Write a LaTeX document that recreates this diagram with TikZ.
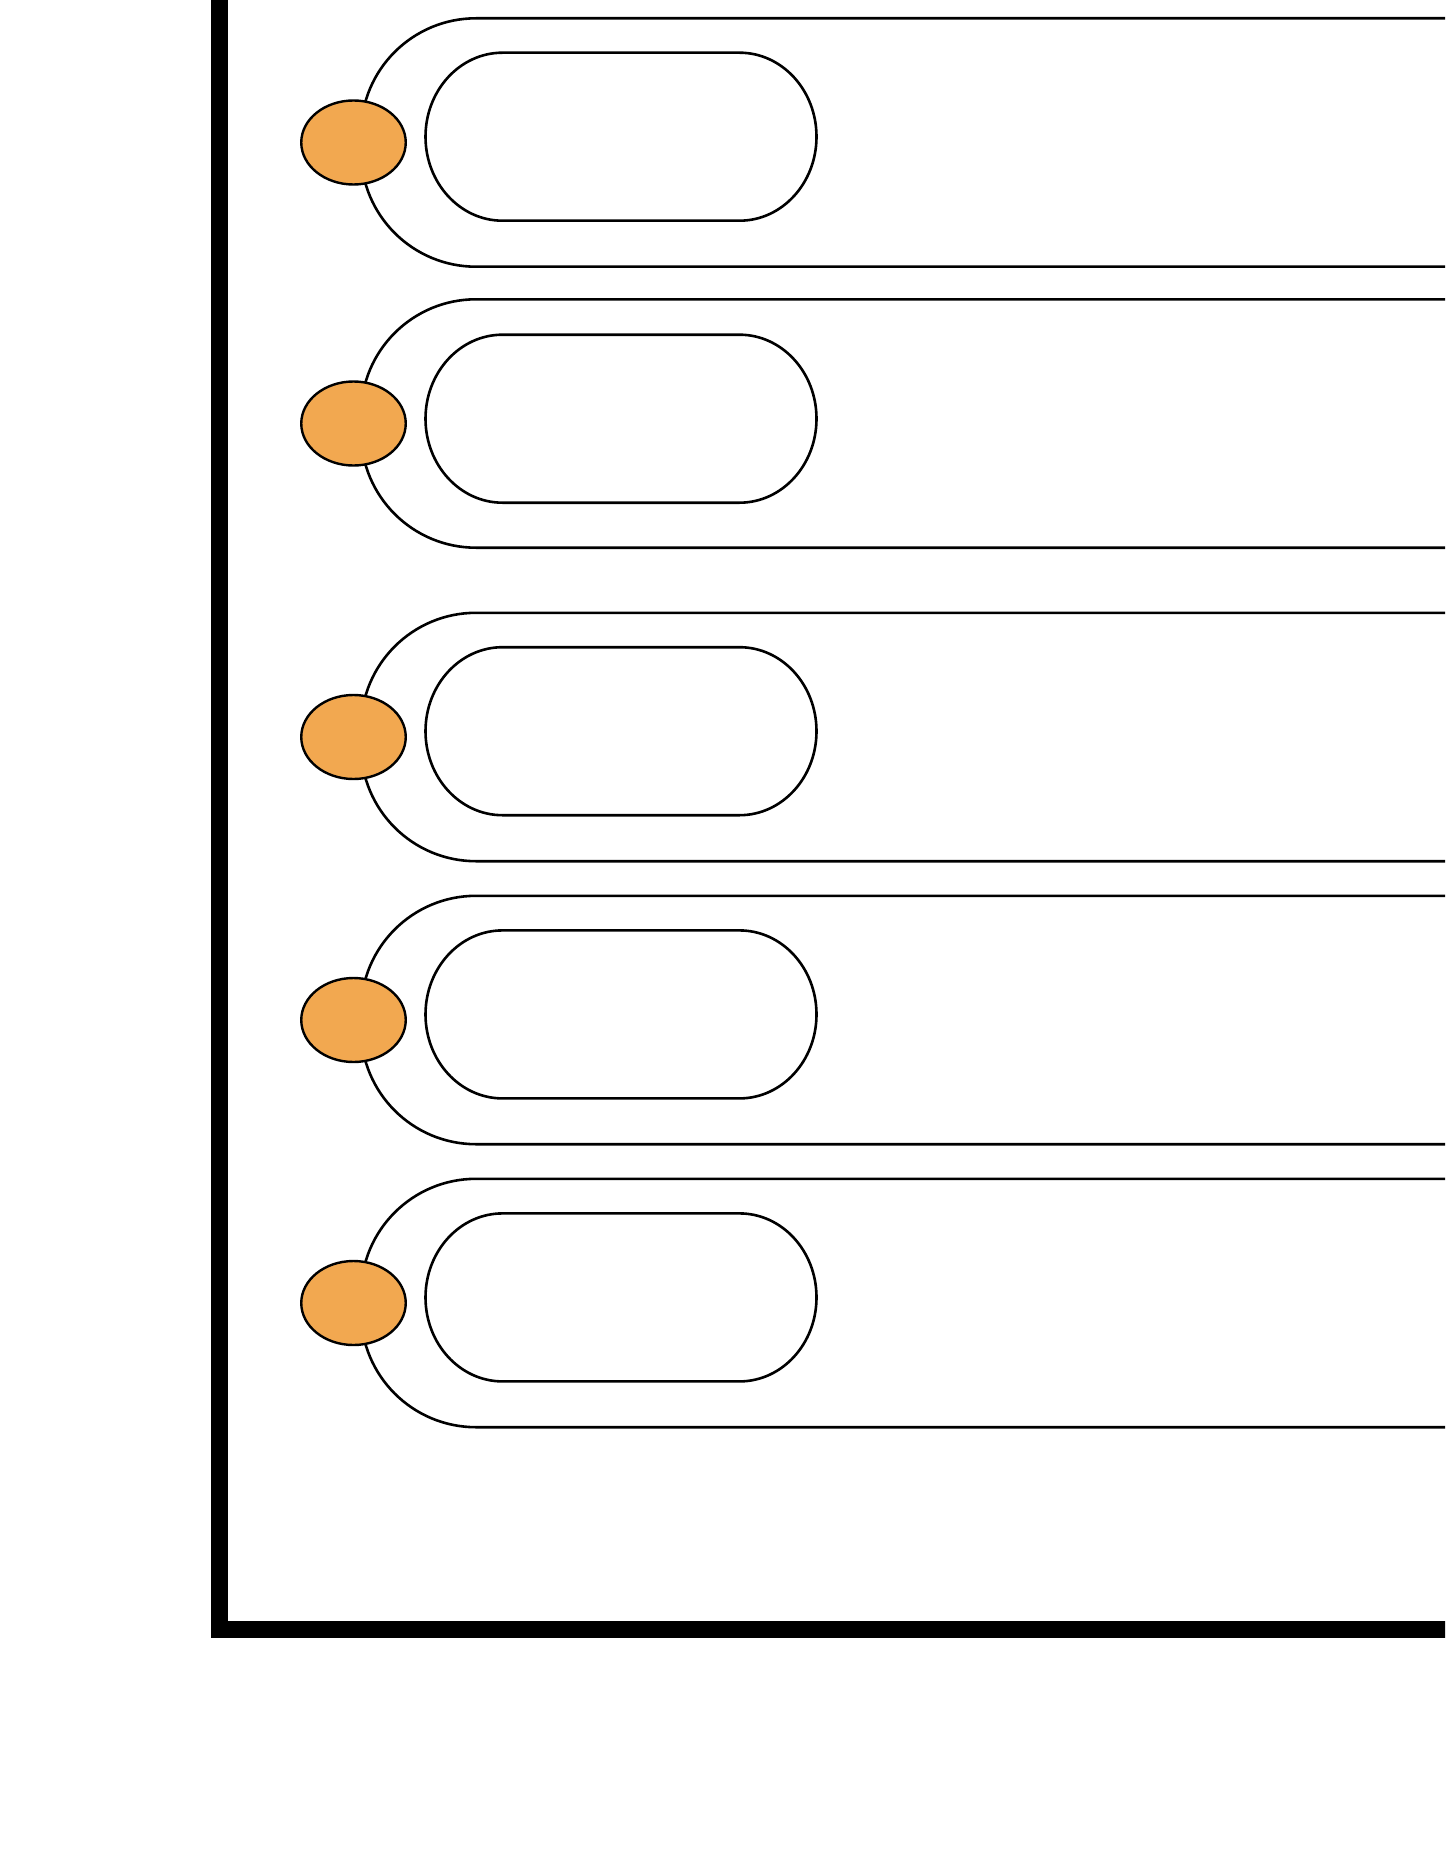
\documentclass[tikz,border=0pt]{standalone}
\usetikzlibrary{shapes.geometric}
\definecolor{dotorange}{RGB}{242,168,80}
\tikzset{
  framebox/.style={line width=17pt, line join=miter},
  outerpill/.style={draw=black, line width=2.6pt, rounded corners=115pt},
  innerpill/.style={draw=none, minimum width=391pt, minimum height=168pt, inner sep=0pt, outer sep=0pt},
  pillline/.style={draw=black, line width=2.6pt},
  knob/.style={ellipse, draw=black, line width=2.4pt, fill=dotorange, minimum width=104.5pt, minimum height=84pt, inner sep=0pt}
}
\begin{document}
\begin{tikzpicture}[x=1pt,y=-1pt]
\useasboundingbox (0,0) rectangle (1445,1870);
\clip (0,0) rectangle (1445,1870);
\fill[white] (0,0) rectangle (1445,1870);
% outer frame
\coordinate (ftl) at (219,-60);
\coordinate (fbl) at (219,1629);
\coordinate (fbr) at (1520,1629);
\coordinate (ftr) at (1520,-60);
\draw[framebox] (ftl) -- (fbl) -- (fbr) -- (ftr) -- cycle;
% rows
\foreach \i/\c/\ci in {1/142.5/136.7, 2/423.5/418.7, 3/737/731.2, 4/1020/1014.4, 5/1303/1297.4}{
  \draw[outerpill] (361,\c-124.2) rectangle (1560,\c+124.2);
  \node[innerpill] (pill\i) at (621,\ci) {};
  \draw[pillline] ([xshift=77pt]pill\i.north west) -- ([xshift=-77pt]pill\i.north east)
     arc[start angle=90, end angle=-90, x radius=77pt, y radius=84pt]
     -- ([xshift=77pt]pill\i.south west)
     arc[start angle=270, end angle=90, x radius=77pt, y radius=84pt] -- cycle;
  \node[knob] (knob\i) at (353.5,\c) {};
}
\end{tikzpicture}
\end{document}
